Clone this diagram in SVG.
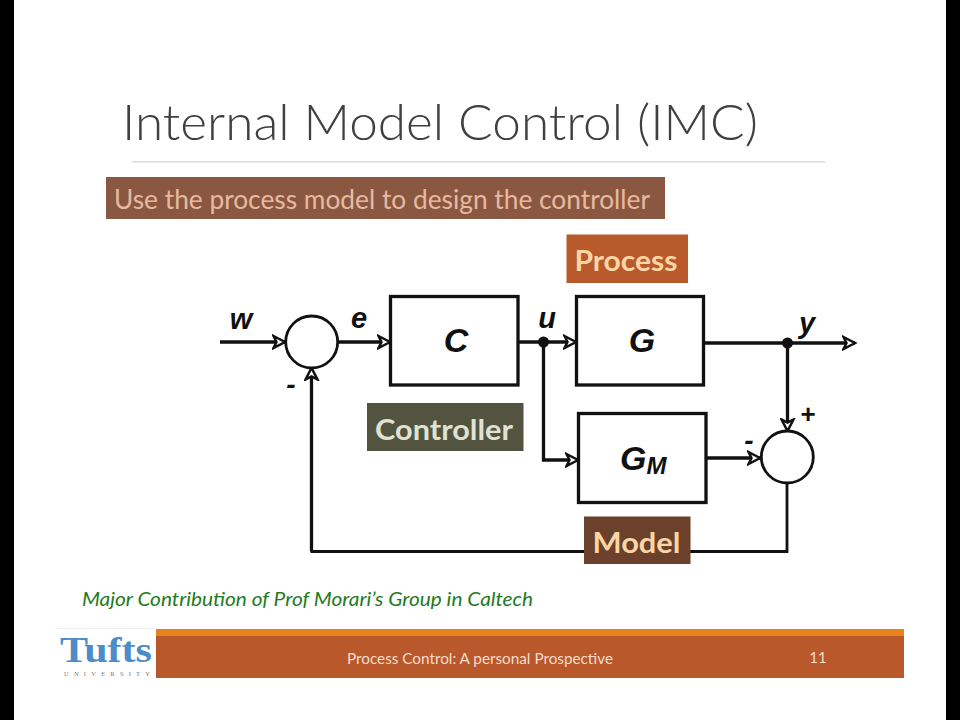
<svg xmlns="http://www.w3.org/2000/svg" width="960" height="720" viewBox="0 0 960 720">
<style>
.ln{fill:none;stroke:#111;stroke-width:3.300}
.bx{fill:#fff;stroke:#111;stroke-width:3.300}
.thin{fill:none;stroke:#111;stroke-width:2.800}
.m{font-family:"Liberation Sans",Arial,sans-serif;font-weight:700;font-style:italic;fill:#111}
.l{font-family:Lato,"Open Sans",sans-serif}
.tag{font-family:Lato,"Open Sans",sans-serif;font-size:29px;font-weight:700}
</style>
<defs>
<marker id="ah" markerUnits="userSpaceOnUse" markerWidth="16" markerHeight="16" refX="13" refY="8" orient="auto">
<path d="M1.500,2 L13,8 L1.500,14 L4.500,8 Z" fill="#fff" stroke="#111" stroke-width="2.500"/>
</marker>
</defs>
<rect width="960" height="720" fill="#fff"/>
<rect x="0" y="0" width="14" height="720" fill="#000"/>
<rect x="946" y="0" width="14" height="720" fill="#000"/>
<g id="title">
<text class="l" x="122" y="140" font-size="50" font-weight="300" fill="#404040" textLength="636" lengthAdjust="spacingAndGlyphs">Internal Model Control (IMC)</text>
<rect x="132" y="161" width="693" height="1.500" fill="#d9d9d9"/>
</g>
<g id="subtitle">
<rect x="106" y="177" width="559" height="42" fill="#8a5840"/>
<text class="l" x="114" y="209" font-size="27" fill="#e8b9a0" textLength="536" lengthAdjust="spacingAndGlyphs">Use the process model to design the controller</text>
</g>
<g id="connectors">
<path class="ln" d="M220,342 H285" marker-end="url(#ah)"/>
<path class="ln" d="M338,342 H390" marker-end="url(#ah)"/>
<path class="ln" d="M518,342 H576" marker-end="url(#ah)"/>
<path class="ln" d="M543.500,342 V460 H578" marker-end="url(#ah)"/>
<path class="ln" d="M704,343 H855" marker-end="url(#ah)"/>
<path class="ln" d="M787.500,343 V431" marker-end="url(#ah)"/>
<path class="ln" d="M706,458 H760" marker-end="url(#ah)"/>
<path class="thin" d="M787,483 V551.500 H310.500"/>
<path class="ln" d="M311.500,551.500 V368" marker-end="url(#ah)"/>
<circle cx="543.500" cy="342" r="5.500" fill="#111"/>
<circle cx="787.500" cy="343" r="5.500" fill="#111"/>
</g>
<g id="sum1"><circle class="thin" cx="311.700" cy="342" r="26" style="fill:#fff"/></g>
<g id="sum2"><circle class="thin" cx="787.300" cy="457" r="26" style="fill:#fff"/></g>
<g id="node-c"><rect class="bx" x="390.500" y="296.500" width="127.500" height="88.500"/>
<text class="m" x="456" y="352" font-size="34" text-anchor="middle">C</text></g>
<g id="node-g"><rect class="bx" x="576.500" y="296.500" width="127" height="88.500"/>
<text class="m" x="642" y="352" font-size="34" text-anchor="middle">G</text></g>
<g id="node-gm"><rect class="bx" x="578.500" y="413.500" width="127.500" height="89"/>
<text class="m" x="620" y="470" font-size="34">G<tspan font-size="24" dy="4">M</tspan></text></g>
<g id="labels">
<text class="m" x="241" y="329" font-size="29" text-anchor="middle">w</text>
<text class="m" x="359" y="328" font-size="29" text-anchor="middle">e</text>
<text class="m" x="547" y="328" font-size="29" text-anchor="middle">u</text>
<text class="m" x="807" y="333" font-size="29" text-anchor="middle">y</text>
<text class="m" x="291" y="394" font-size="28" text-anchor="middle">-</text>
<text class="m" x="749" y="450" font-size="28" text-anchor="middle">-</text>
<text x="808" y="423" font-size="26" font-family="'Liberation Sans',sans-serif" font-weight="700" fill="#111" text-anchor="middle">+</text>
</g>
<g id="process"><rect x="566.500" y="234.500" width="121.500" height="48.500" fill="#b85a2c"/>
<text class="tag" x="626" y="271" fill="#fbd5a5" text-anchor="middle" textLength="103" lengthAdjust="spacingAndGlyphs">Process</text></g>
<g id="controller"><rect x="367" y="403" width="156.500" height="48" fill="#53543f"/>
<text class="tag" x="444" y="440" fill="#dfe2d5" text-anchor="middle" textLength="138" lengthAdjust="spacingAndGlyphs">Controller</text></g>
<g id="model"><rect x="584" y="516.500" width="106.500" height="47.500" fill="#6b412b"/>
<text class="tag" x="636.500" y="553" fill="#fbd5a5" text-anchor="middle" textLength="88" lengthAdjust="spacingAndGlyphs">Model</text></g>
<text class="l" x="82" y="606" font-size="19" font-style="italic" fill="#1e7a1e" textLength="451" lengthAdjust="spacingAndGlyphs">Major Contribution of Prof Morari’s Group in Caltech</text>
<g id="footer">
<rect x="56" y="628" width="100" height="1" fill="#eee"/>
<rect x="156" y="629" width="748" height="7" fill="#e8821e"/>
<rect x="156" y="636" width="748" height="42" fill="#b9582b"/>
<text x="106" y="662" font-family="'Liberation Serif',serif" font-weight="700" font-size="36" fill="#4c8cc8" text-anchor="middle" textLength="92" lengthAdjust="spacingAndGlyphs">Tufts</text>
<text x="107" y="676" font-family="'Liberation Serif',serif" font-size="6.500" fill="#7a7a7a" text-anchor="middle" textLength="86">UNIVERSITY</text>
<text class="l" x="480" y="664" font-size="15" fill="#f7dccb" text-anchor="middle" textLength="266" lengthAdjust="spacingAndGlyphs">Process Control: A personal Prospective</text>
<text class="l" x="818" y="663" font-size="15" fill="#f7dccb" text-anchor="middle">11</text>
</g>
</svg>
